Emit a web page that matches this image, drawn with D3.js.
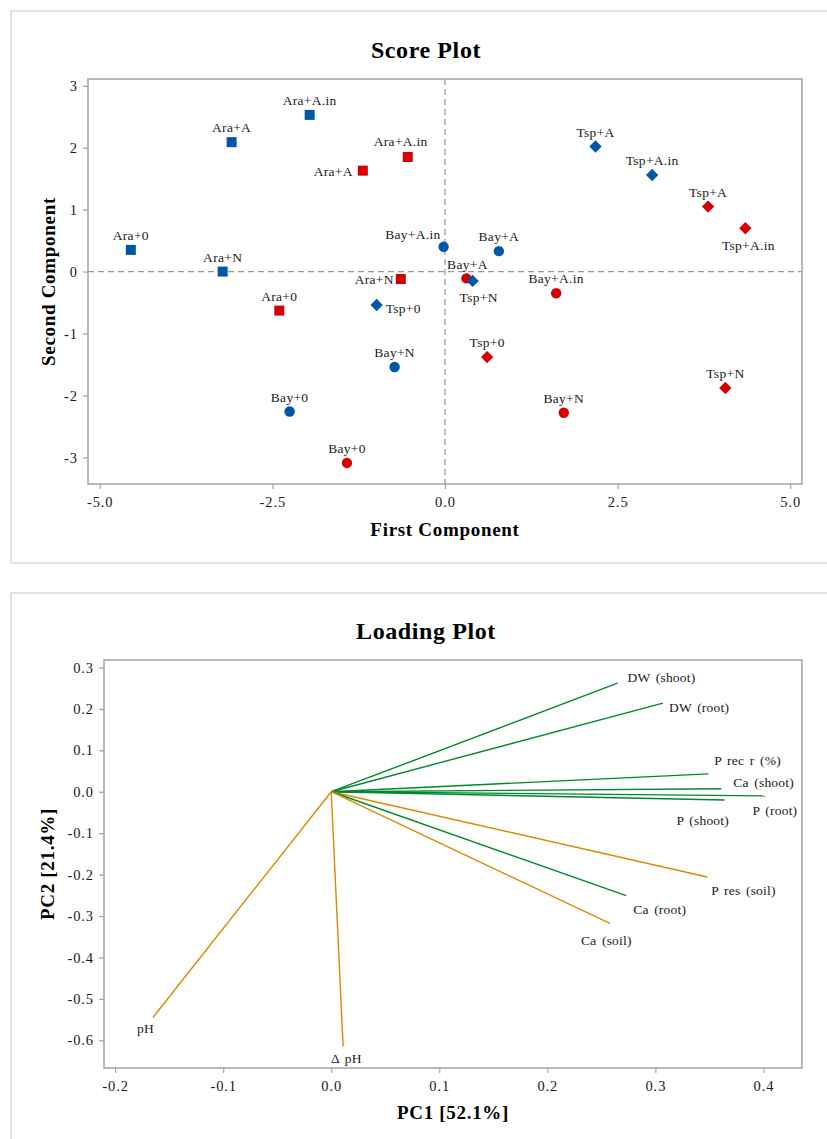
<!DOCTYPE html>
<html>
<head>
<meta charset="utf-8">
<script src="https://cdn.jsdelivr.net/npm/d3@7"></script>
<style>
  html, body { margin: 0; padding: 0; background: #fff; }
  svg { display: block; font-family: "Liberation Serif", "Times New Roman", serif; }
</style>
</head>
<body>
<svg id="chart" width="827" height="1139"></svg>
<script>
// ---------------- DATA ----------------
const scoreNames = ["Ara+0", "Ara+N", "Ara+A", "Ara+A.in",
                    "Bay+0", "Bay+N", "Bay+A", "Bay+A.in",
                    "Tsp+0", "Tsp+N", "Tsp+A", "Tsp+A.in"];
const plantGroups = ["Ara", "Bay", "Tsp"];
const blueScoreX = [-4.55, -3.22, -3.09, -1.96, -2.25, -0.73, 0.78, -0.02, -0.99, 0.40, 2.18, 3.00];
const blueScoreY = [0.35, 0.00, 2.09, 2.53, -2.26, -1.54, 0.33, 0.40, -0.54, -0.15, 2.02, 1.56];
const redScoreX  = [-2.40, -0.64, -1.19, -0.54, -1.42, 1.72, 0.31, 1.61, 0.61, 4.06, 3.81, 4.35];
const redScoreY  = [-0.63, -0.12, 1.63, 1.85, -3.09, -2.28, -0.11, -0.35, -1.38, -1.88, 1.05, 0.70];
const scoreXTicks = [-5.0, -2.5, 0.0, 2.5, 5.0];
const scoreYTicks = [-3, -2, -1, 0, 1, 2, 3];

const loadingVars = ["DW (shoot)", "DW (root)", "P rec r (%)", "Ca (shoot)", "P (root)", "P (shoot)",
                     "P res (soil)", "Ca (root)", "Ca (soil)", "pH", "\u0394 pH"];
const loadingPC1 = [0.265, 0.307, 0.349, 0.361, 0.402, 0.364, 0.348, 0.273, 0.258, -0.165, 0.011];
const loadingPC2 = [0.262, 0.214, 0.043, 0.007, -0.010, -0.020, -0.206, -0.251, -0.318, -0.545, -0.615];
const loadingType = ["plant", "plant", "plant", "plant", "plant", "plant", "soil", "plant", "soil", "soil", "soil"];
const loadingXTicks = [-0.2, -0.1, 0.0, 0.1, 0.2, 0.3, 0.4];
const loadingYTicks = [-0.6, -0.5, -0.4, -0.3, -0.2, -0.1, 0.0, 0.1, 0.2, 0.3];

// ---------------- STYLE ----------------
const BLUE = "#0057a6", RED = "#d60000";
const GREEN = "#00882c", ORANGE = "#d98b00";
const FRAME = "#a3a3a3", PANEL = "#d9d9d9", TXT = "#1a1a1a";
const svg = d3.select("#chart");
const fmt1 = v => d3.format(".1f")(v).replace("\u2212", "-");
const fmt0 = v => d3.format("d")(v).replace("\u2212", "-");

function panel(y, h) {
  svg.append("rect").attr("x", 11).attr("y", y).attr("width", 840).attr("height", h)
    .attr("fill", "none").attr("stroke", PANEL).attr("stroke-width", 1.5);
}

function drawAxes(g, x, y, xTicks, yTicks, xf, yf, w, h) {
  const ax = g.append("g").attr("transform", `translate(0,${h})`)
    .call(d3.axisBottom(x).tickValues(xTicks).tickFormat(xf).tickSize(5).tickSizeOuter(0).tickPadding(8));
  const ay = g.append("g")
    .call(d3.axisLeft(y).tickValues(yTicks).tickFormat(yf).tickSize(5).tickSizeOuter(0).tickPadding(5));
  [ax, ay].forEach(a => {
    a.select(".domain").remove();
    a.selectAll(".tick line").attr("stroke", FRAME).attr("stroke-width", 1.2);
    a.selectAll(".tick text").attr("fill", TXT)
      .style("font-family", "'Liberation Serif', 'Times New Roman', serif")
      .style("font-size", "14.5px").style("letter-spacing", "0.9px");
  });
  g.append("rect").attr("x", 0).attr("y", 0).attr("width", w).attr("height", h)
    .attr("fill", "none").attr("stroke", FRAME).attr("stroke-width", 1.5);
}

function title(text, cx, y) {
  svg.append("text").attr("x", cx).attr("y", y).attr("text-anchor", "middle")
    .attr("font-weight", "bold").attr("font-size", 24).style("letter-spacing", "0.6px")
    .attr("fill", "#000").text(text);
}
function axisTitle(text, x, y, rotate) {
  const t = svg.append("text").attr("text-anchor", "middle").attr("font-weight", "bold")
    .attr("font-size", 19).style("letter-spacing", "0.7px").attr("fill", "#000").text(text);
  if (rotate) t.attr("transform", `translate(${x},${y}) rotate(-90)`);
  else t.attr("x", x).attr("y", y);
}

// ================= SCORE PLOT =================
panel(11, 552);
title("Score Plot", 426, 58);
{
  const L = 88, T = 79, W = 714, H = 405;
  const g = svg.append("g").attr("transform", `translate(${L},${T})`);
  const x = d3.scaleLinear().domain([-5.17, 5.17]).range([0, W]);
  const y = d3.scaleLinear().domain([-3.43, 3.11]).range([H, 0]);

  // reference lines
  g.append("line").attr("x1", x(0)).attr("x2", x(0)).attr("y1", 0).attr("y2", H)
    .attr("stroke", "#9a9a9a").attr("stroke-width", 1.3).attr("stroke-dasharray", "6,4");
  g.append("line").attr("x1", 0).attr("x2", W).attr("y1", y(0)).attr("y2", y(0))
    .attr("stroke", "#9a9a9a").attr("stroke-width", 1.3).attr("stroke-dasharray", "6,4");

  drawAxes(g, x, y, scoreXTicks, scoreYTicks, fmt1, fmt0, W, H);

  const shapes = {
    Ara: d3.symbol().type(d3.symbolSquare).size(100),
    Bay: d3.symbol().type(d3.symbolCircle).size(85),
    Tsp: d3.symbol().type(d3.symbolSquare).size(76)
  };
  // label placement: [anchor, dx, dy]
  const place = {
    "red|Ara+A": ["end", -10, 5],
    "red|Ara+N": ["end", -7, 5],
    "red|Ara+A.in": ["middle", -7, -11],
    "blue|Bay+A.in": ["end", -3, -8],
    "red|Bay+A": ["middle", 1, -9],
    "blue|Tsp+N": ["middle", 6, 21],
    "blue|Tsp+0": ["start", 9, 8],
    "red|Tsp+A.in": ["middle", 3, 22]
  };

  const pts = [];
  plantGroups.forEach(pg => {
    [["blue", blueScoreX, blueScoreY, BLUE], ["red", redScoreX, redScoreY, RED]].forEach(([s, xs, ys, col]) => {
      scoreNames.forEach((n, i) => {
        if (n.startsWith(pg)) pts.push({ s, n, pg, x: xs[i], y: ys[i], col });
      });
    });
  });

  g.selectAll("path.pt").data(pts).enter().append("path").attr("class", "pt")
    .attr("d", d => shapes[d.pg]())
    .attr("transform", d => `translate(${x(d.x)},${y(d.y)})` + (d.pg === "Tsp" ? " rotate(45)" : ""))
    .attr("fill", d => d.col);

  g.selectAll("text.lbl").data(pts).enter().append("text").attr("class", "lbl")
    .each(function (d) {
      const p = place[d.s + "|" + d.n] || ["middle", 0, -10];
      d3.select(this).attr("x", x(d.x) + p[1]).attr("y", y(d.y) + p[2]).attr("text-anchor", p[0]);
    })
    .attr("font-size", 13.5).style("letter-spacing", "0.3px").attr("fill", TXT)
    .text(d => d.n);

  axisTitle("First Component", L + W / 2, 536, false);
  axisTitle("Second Component", 55, T + H / 2, true);
}

// ================= LOADING PLOT =================
panel(593, 560);
title("Loading Plot", 426, 639);
{
  const L = 104, T = 660, W = 698, H = 408;
  const g = svg.append("g").attr("transform", `translate(${L},${T})`);
  const x = d3.scaleLinear().domain([-0.2103, 0.4357]).range([0, W]);
  const y = d3.scaleLinear().domain([-0.667, 0.318]).range([H, 0]);

  drawAxes(g, x, y, loadingXTicks, loadingYTicks, fmt1, fmt1, W, H);

  const colorOf = t => t === "plant" ? GREEN : ORANGE;
  const vecs = loadingVars.map((n, i) => ({ n, x: loadingPC1[i], y: loadingPC2[i], t: loadingType[i] }));
  g.selectAll("line.vec").data(vecs).enter().append("line").attr("class", "vec")
    .attr("x1", x(0)).attr("y1", y(0))
    .attr("x2", d => x(d.x)).attr("y2", d => y(d.y))
    .attr("stroke", d => colorOf(d.t)).attr("stroke-width", 1.4);

  // label offsets from vector end: [dx, dy]
  const off = {
    "DW (shoot)": [10, -1], "DW (root)": [6, 9], "P rec r (%)": [6, -9], "Ca (shoot)": [12, -2],
    "P (root)": [-13, 19], "P (shoot)": [-48, 25], "P res (soil)": [4, 18], "Ca (root)": [7, 18],
    "Ca (soil)": [-29, 22], "pH": [-16, 16], "\u0394 pH": [-12, 17]
  };
  g.selectAll("text.vl").data(vecs).enter().append("text").attr("class", "vl")
    .attr("x", d => x(d.x) + off[d.n][0]).attr("y", d => y(d.y) + off[d.n][1])
    .attr("font-size", 13.5).style("letter-spacing", "0.2px").style("word-spacing", "2px")
    .attr("fill", TXT).text(d => d.n);

  axisTitle("PC1 [52.1%]", L + W / 2, 1119, false);
  axisTitle("PC2 [21.4%]", 54, T + H / 2, true);
}
</script>
</body>
</html>
